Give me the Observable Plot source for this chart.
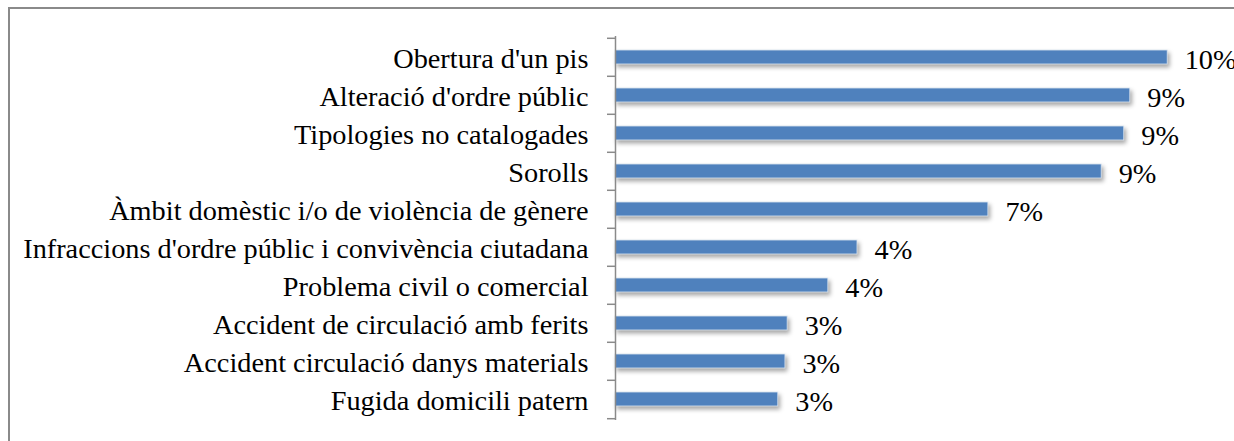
<!DOCTYPE html>
<html>
<head>
<meta charset="utf-8">
<script src="https://cdn.jsdelivr.net/npm/d3@7"></script>
<script src="https://cdn.jsdelivr.net/npm/@observablehq/plot@0.6"></script>
<style>
  html, body { margin: 0; padding: 0; background: #fff; }
  #wrap { position: relative; width: 1234px; height: 441px; overflow: hidden; }
  #frame { position: absolute; left: 8px; top: 7px; width: 1240px; height: 450px;
           border-left: 2px solid #8a8a8a; border-top: 2px solid #8a8a8a; box-sizing: border-box; }
  #chart { position: absolute; left: 0; top: 0; }
  g[aria-label="bar"] rect { filter: drop-shadow(2px 3px 2px rgba(0,0,0,0.35)); }
</style>
</head>
<body>
<div id="wrap"><div id="frame"></div><div id="chart"></div></div>
<script>
const categories = [
  "Obertura d'un pis",
  "Alteració d'ordre públic",
  "Tipologies no catalogades",
  "Sorolls",
  "Àmbit domèstic i/o de violència de gènere",
  "Infraccions d'ordre públic i convivència ciutadana",
  "Problema civil o comercial",
  "Accident de circulació amb ferits",
  "Accident circulació danys materials",
  "Fugida domicili patern"
];
const values = [10.04, 9.36, 9.25, 8.84, 6.78, 4.40, 3.87, 3.13, 3.09, 2.96];

const data = categories.map((c, i) => ({category: c, value: values[i]}));
const font = "'Liberation Serif', 'Times New Roman', serif";
const fs = 28.3;

const chart = Plot.plot({
  width: 1234,
  height: 441,
  marginLeft: 615,
  marginRight: 14,
  marginTop: 36,
  marginBottom: 21,
  style: {fontFamily: font, fontSize: fs + "px", color: "#000", background: "transparent"},
  x: {domain: [0, 11], axis: null},
  y: {domain: categories, paddingInner: 0.635, paddingOuter: 0.3175, axis: null, label: null},
  marks: [
    Plot.barX(data, {x: "value", y: "category", fill: "#4f81bd", stroke: "#dbe5f1", strokeWidth: 0.8}),
    Plot.text(data, {x: "value", y: "category", text: d => Math.round(d.value) + "%",
      textAnchor: "start", dx: 17, dy: 2, fontSize: fs, fill: "#000"}),
    Plot.axisY({tickSize: 0, tickPadding: 27, fontSize: fs, fill: "#000", anchor: "left", label: null, dy: 1}),
    Plot.axisY({tickSize: 8, text: null, stroke: "#8a8a8a", strokeWidth: 1.5, anchor: "left", dy: -19.2, label: null}),
    Plot.axisY({ticks: [categories[categories.length - 1]], tickSize: 8, text: null, stroke: "#8a8a8a", strokeWidth: 1.5, anchor: "left", dy: 19.2, label: null}),
    Plot.ruleX([0], {stroke: "#8a8a8a", strokeWidth: 1.5})
  ]
});
document.getElementById("chart").appendChild(chart);
</script>
</body>
</html>
